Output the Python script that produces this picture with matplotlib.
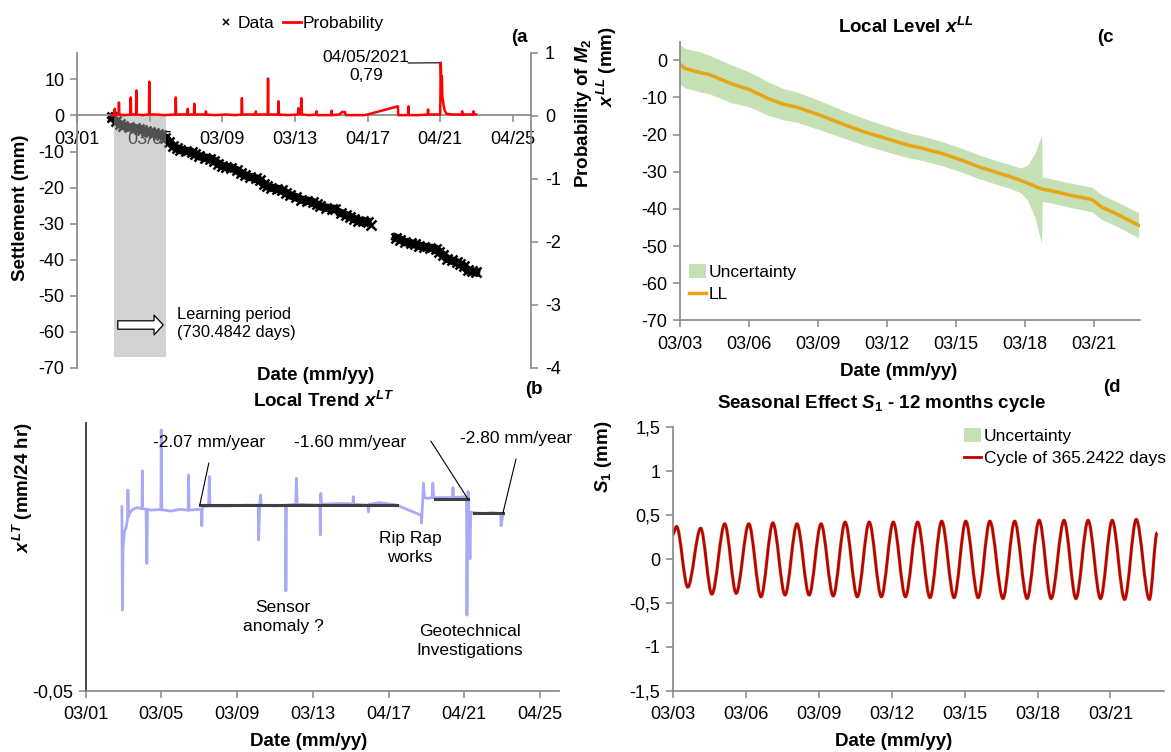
import numpy as np
import matplotlib
matplotlib.use('Agg')
import matplotlib.pyplot as plt
from matplotlib.lines import Line2D
from matplotlib.patches import Patch, Rectangle, FancyArrowPatch, PathPatch, ArrowStyle
from matplotlib.path import Path

plt.rcParams['font.family'] = ['Liberation Sans', 'DejaVu Sans']
plt.rcParams['axes.unicode_minus'] = False
plt.rcParams['mathtext.fontset'] = 'custom'
plt.rcParams['mathtext.it'] = 'Liberation Sans:bold:italic'
plt.rcParams['mathtext.rm'] = 'Liberation Sans:bold'
plt.rcParams['mathtext.bf'] = 'Liberation Sans:bold'

# ---------------- data ----------------
nan = np.nan
# (a) settlement data (mm) vs decimal year
settle_year = [2002.94, 2003.15, 2003.35, 2003.56, 2003.88, 2004.19, 2004.40, 2004.60, 2004.81, 2005.02,
               2005.23, 2005.44, 2005.65, 2005.85, 2006.06, 2006.27, 2006.48, 2006.69, 2007.00, 2007.31,
               2007.52, 2007.73, 2008.04, 2008.35, 2008.56, 2008.77, 2008.98, 2009.19, 2009.50, 2009.81,
               2010.02, 2010.23, 2010.54, 2010.85, 2011.06, 2011.27, 2011.48, 2011.69, 2012.00, 2012.31,
               2012.52, 2012.73, 2013.04, 2013.35, 2013.67, 2013.98, 2014.19, 2014.40, 2014.71, 2015.02,
               2015.19, 2015.3,
               2015.54, 2015.81, 2016.06, 2016.27, 2016.48, 2016.73, 2017.00, 2017.1,
               2017.21, 2017.3,
               2018.56, 2018.81, 2019.08, 2019.40, 2019.60, 2019.85, 2020.13, 2020.44, 2020.75, 2020.96,
               2021.17, 2021.38, 2021.63, 2021.90, 2022.10, 2022.31, 2022.52, 2022.73, 2022.98]
settle_mm = [-0.56, -1.48, -2.41, -2.96, -3.33, -3.52, -3.70, -4.07, -4.35, -4.63,
             -4.91, -5.19, -5.46, -6.11, -7.22, -8.33, -9.07, -9.63, -9.81, -10.09,
             -10.74, -11.30, -11.67, -11.94, -12.59, -13.33, -13.98, -14.26, -14.44, -15.19,
             -15.93, -16.57, -17.04, -17.41, -17.96, -18.89, -19.63, -20.00, -20.28, -20.74,
             -21.48, -22.13, -22.59, -23.33, -23.61, -23.98, -24.63, -25.19, -25.56, -25.83,
             -25.93, nan,
             -27.04, -27.59, -28.15, -28.70, -29.17, -29.35, -29.54, nan,
             -30.46, nan,
             -33.89, -34.44, -35.09, -35.46, -35.65, -36.11, -36.48, -36.67, -36.94, -37.87,
             -38.80, -39.72, -40.19, -40.65, -41.30, -41.76, -42.96, -43.24, -43.43]

# (a) probability of model M2
prob_year = [2002.94, 2003.05, 2003.08, 2003.10, 2003.29, 2003.31, 2003.33, 2003.6, 2003.94, 2003.96,
             2003.98, 2004.25, 2004.27, 2004.29, 2004.6, 2004.96, 2004.98, 2005.00, 2005.4, 2005.8,
             2006.42, 2006.44, 2006.46, 2006.8, 2007.08, 2007.10, 2007.12, 2007.44, 2007.46, 2007.48,
             2008.08, 2008.10, 2008.12, 2008.6, 2009.2, 2009.7, 2010.06, 2010.08, 2010.10, 2010.5,
             2010.83, 2010.85, 2010.87, 2011.50, 2011.52, 2011.54, 2011.8, 2012.08, 2012.10, 2012.12,
             2012.6, 2013.17, 2013.19, 2013.21, 2013.33, 2013.35, 2013.37, 2013.8, 2014.17, 2014.19,
             2014.21, 2014.6, 2015.00, 2015.02, 2015.04, 2015.45, 2015.6, 2015.75, 2015.8, 2016.3,
             2016.8, 2017.0, 2018.67, 2018.69, 2019.0, 2019.23, 2019.25, 2019.27, 2019.8, 2020.31,
             2020.33, 2020.35, 2020.8, 2021.00, 2021.03, 2021.06, 2021.09, 2021.12, 2021.18, 2021.25,
             2021.35, 2021.7, 2022.19, 2022.21, 2022.23, 2022.6, 2022.81, 2022.83, 2022.85, 2022.98]
prob_val = [0.00, 0.02, 0.11, 0.02, 0.02, 0.21, 0.02, 0.01, 0.02, 0.29,
            0.02, 0.02, 0.40, 0.02, 0.01, 0.02, 0.54, 0.02, 0.02, 0.01,
            0.02, 0.29, 0.02, 0.02, 0.02, 0.11, 0.02, 0.02, 0.19, 0.02,
            0.02, 0.07, 0.02, 0.01, 0.02, 0.01, 0.02, 0.28, 0.02, 0.02,
            0.02, 0.07, 0.02, 0.02, 0.59, 0.02, 0.02, 0.02, 0.23, 0.02,
            0.01, 0.02, 0.12, 0.03, 0.03, 0.28, 0.02, 0.01, 0.02, 0.07,
            0.01, 0.01, 0.01, 0.08, 0.01, 0.02, 0.06, 0.06, 0.01, 0.01,
            0.01, 0.02, 0.15, 0.01, 0.01, 0.01, 0.15, 0.01, 0.01, 0.02,
            0.10, 0.02, 0.02, 0.02, 0.84, 0.55, 0.63, 0.30, 0.18, 0.08,
            0.03, 0.02, 0.02, 0.07, 0.02, 0.02, 0.02, 0.07, 0.02, 0.02]
learn_start, learn_end = 2003.04, 2005.88

# (b) local trend (mm/day)
lt_year = [2002.92, 2002.95, 2002.98, 2003.02, 2003.06, 2003.15, 2003.22, 2003.24, 2003.27, 2003.35,
           2003.5, 2003.7, 2003.98, 2004.0, 2004.02, 2004.2, 2004.24, 2004.27, 2004.5, 2004.98,
           2005.0, 2005.03, 2005.5, 2006.0, 2006.42, 2006.44, 2006.47, 2007.0, 2007.12, 2007.14,
           2007.17, 2007.5, 2007.54, 2007.57, 2008.5, 2009.5, 2010.12, 2010.14, 2010.2, 2010.24,
           2010.28, 2011.0, 2011.56, 2011.58, 2011.61, 2012.1, 2012.14, 2012.18, 2013.38, 2013.4,
           2013.42, 2013.46, 2014.5, 2015.12, 2015.14, 2015.17, 2015.9, 2015.94, 2015.98, 2016.5,
           2017.0, 2017.44, 2018.72, 2018.74, 2018.8, 2018.84, 2018.9, 2019.04, 2019.3, 2019.34,
           2019.38, 2020.0, 2020.38, 2020.4, 2020.43, 2021.0, 2021.12, 2021.14, 2021.17, 2021.2,
           2021.24, 2021.3, 2021.34, 2021.5, 2022.0, 2022.5, 2022.92, 2022.94, 2023.04]
lt_val = [-0.0062, -0.0308, -0.0160, -0.0140, -0.0120, -0.0110, -0.0090, -0.0022, -0.0085, -0.0075,
          -0.0068, -0.0064, -0.0066, 0.0024, -0.0066, -0.0068, -0.0197, -0.0068, -0.0070, -0.0068,
          0.0121, -0.0069, -0.0072, -0.0068, -0.0070, 0.0014, -0.0070, -0.0068, -0.0070, -0.0107,
          -0.0062, -0.0060, 0.0010, -0.0060, -0.0060, -0.0058, -0.0058, -0.0141, -0.0058, -0.0034,
          -0.0058, -0.0060, -0.0058, -0.0262, -0.0058, -0.0056, 0.0006, -0.0056, -0.0058, -0.0129,
          -0.0030, -0.0056, -0.0054, -0.0055, -0.0038, -0.0056, -0.0058, -0.0074, -0.0056, -0.0052,
          -0.0055, -0.0058, -0.0082, -0.0101, -0.0050, -0.0006, -0.0040, -0.0042, -0.0040, -0.0006,
          -0.0040, -0.0040, -0.0040, -0.0016, -0.0040, -0.0038, -0.0044, -0.0320, -0.0100, -0.0026,
          -0.0070, -0.0186, -0.0075, -0.0076, -0.0078, -0.0076, -0.0078, -0.0107, -0.0080]
trend_labels = ['-2.07 mm/year', '-1.60 mm/year', '-2.80 mm/year']
trend_rate = [-2.07, -1.60, -2.80]            # mm/year
trend_start = [2007.04, 2019.44, 2021.50]
trend_end = [2017.44, 2021.20, 2023.04]

# (c) local level (mm)
ll_year = [2003.00, 2003.21, 2003.93, 2004.26, 2005.22, 2006.03, 2006.83, 2007.48, 2008.12, 2009.09,
           2010.05, 2011.02, 2011.99, 2012.95, 2013.43, 2014.40, 2015.21, 2016.01, 2016.82, 2017.30,
           2017.80, 2018.10, 2018.43, 2018.72, 2018.75, 2019.07, 2020.04, 2020.92, 2021.33, 2021.97,
           2022.94]
ll_val = [-1.1, -2.2, -3.4, -3.8, -6.3, -7.9, -10.3, -11.8, -12.7, -14.8,
          -17.1, -19.3, -21.1, -22.9, -23.5, -25.1, -26.8, -28.7, -30.3, -31.2,
          -32.3, -33.0, -33.9, -34.6, -34.7, -35.0, -36.4, -37.5, -39.5, -41.3,
          -44.4]
ll_upper = [4.2, 3.2, 2.2, 1.4, -1.2, -3.2, -5.8, -7.6, -8.6, -10.9,
            -13.4, -15.7, -17.7, -19.6, -20.2, -21.9, -23.6, -25.5, -27.1, -28.0,
            -29.0, -28.3, -25.1, -20.2, -31.4, -31.8, -33.1, -34.2, -36.2, -38.0,
            -41.0]
ll_lower = [-6.4, -7.4, -8.6, -9.0, -11.4, -12.6, -14.8, -16.0, -16.8, -18.7,
            -20.8, -22.9, -24.6, -26.3, -26.8, -28.4, -30.0, -31.9, -33.5, -34.4,
            -35.6, -37.5, -42.2, -49.4, -38.0, -38.3, -39.7, -40.8, -42.8, -44.6,
            -47.8]

# (d) seasonal component: start, alternating extremes, end
s1_year = [2003.00, 2003.16, 2003.62, 2004.15, 2004.61, 2005.14, 2005.61, 2006.13, 2006.63, 2007.12,
           2007.62, 2008.11, 2008.61, 2009.10, 2009.60, 2010.09, 2010.59, 2011.08, 2011.58, 2012.07,
           2012.57, 2013.07, 2013.58, 2014.06, 2014.57, 2015.05, 2015.56, 2016.04, 2016.58, 2017.06,
           2017.57, 2018.07, 2018.56, 2019.09, 2019.58, 2020.08, 2020.59, 2021.07, 2021.58, 2022.06,
           2022.60, 2022.92]
s1_val = [0.28, 0.37, -0.32, 0.35, -0.40, 0.40, -0.39, 0.40, -0.43, 0.41,
          -0.41, 0.40, -0.41, 0.40, -0.42, 0.42, -0.43, 0.42, -0.43, 0.42,
          -0.43, 0.42, -0.44, 0.43, -0.44, 0.43, -0.44, 0.43, -0.45, 0.43,
          -0.45, 0.44, -0.45, 0.44, -0.45, 0.44, -0.45, 0.44, -0.46, 0.45,
          -0.46, 0.30]

xt_a = [2001, 2005, 2009, 2013, 2017, 2021, 2025]
xl_a = ['03/01', '03/05', '03/09', '03/13', '04/17', '04/21', '04/25']
xt_c = [2003, 2006, 2009, 2012, 2015, 2018, 2021]
xl_c = ['03/03', '03/06', '03/09', '03/12', '03/15', '03/18', '03/21']

# ---------------- figure ----------------
W, H = 1171, 752
fig = plt.figure(figsize=(W / 100, H / 100), dpi=100)
SP = '#868686'
GREEN = '#c5e0b4'


def P(x, y):
    return (x / W, 1 - y / H)


def box(l, t, r, b):
    return [l / W, 1 - b / H, (r - l) / W, (b - t) / H]


def style(ax, lab=13):
    for s in ['top', 'right']:
        ax.spines[s].set_visible(False)
    for s in ['left', 'bottom']:
        ax.spines[s].set_color(SP)
        ax.spines[s].set_linewidth(1.2)
    ax.tick_params(labelsize=lab, length=5, width=1.1, color=SP, direction='out', pad=4)


def ftext(x, y, s, **kw):
    fig.text(*P(x, y), s, **kw)


TICK = 13
ANN = 12.5
BOLD = 13.5

# ---- (a) ----
ax1 = fig.add_axes(box(77, 52.7, 531, 368))
style(ax1)
ax1.spines['bottom'].set_position(('data', 0))
ax1.set_xlim(2001, 2026)
ax1.set_ylim(-70, 17.4)
ax1.set_yticks(range(-70, 11, 10))
ax1.set_xticks(xt_a)
ax1.set_xticklabels(xl_a)
ax1.tick_params(axis='x', pad=6)
ax1.plot(settle_year, settle_mm, color='k', lw=6, marker='x', ms=7, mew=1.8, zorder=2)
ax1.add_patch(Rectangle((learn_start, -67), learn_end - learn_start, 67,
                        facecolor='#a5a5a5', alpha=0.49, edgecolor='none', zorder=3))
ax2 = ax1.twinx()
for s in ['top', 'left', 'bottom']:
    ax2.spines[s].set_visible(False)
ax2.spines['right'].set_color(SP)
ax2.spines['right'].set_linewidth(1.2)
ax2.set_ylim(-4, 1)
ax2.set_yticks([-4, -3, -2, -1, 0, 1])
ax2.tick_params(labelsize=TICK, length=5, width=1.1, color=SP, direction='out', pad=5)
ax2.plot(prob_year, prob_val, color='#ff0000', lw=1.8, zorder=4)
pk = int(np.argmax(prob_val))
ax2.annotate('', xy=(prob_year[pk], prob_val[pk]), xytext=P(408, 63),
             textcoords='figure fraction',
             arrowprops=dict(arrowstyle='-', color='k', lw=0.8, shrinkA=0, shrinkB=0))
ftext(366, 57, '04/05/2021', fontsize=ANN, ha='center', va='center')
ftext(366, 75, '0,79', fontsize=ANN, ha='center', va='center')
ftext(519, 38, '(a', fontsize=BOLD, fontweight='bold', ha='center', va='center')
ftext(177, 314, 'Learning period', fontsize=11.8, ha='left', va='center')
ftext(177, 333, '(730.4842 days)', fontsize=11.8, ha='left', va='center')
arr = FancyArrowPatch(P(115, 325), P(166, 325), transform=fig.transFigure,
                      arrowstyle=ArrowStyle.Simple(head_length=0.6, head_width=1.3, tail_width=0.55),
                      mutation_scale=11, fc='white', ec='black', lw=0.9, zorder=10)
fig.add_artist(arr)
ftext(21, 208, 'Settlement (mm)', fontsize=BOLD, fontweight='bold', rotation=90, ha='center', va='center')
fig.text(*P(583, 188), 'Probability of $M_2$', fontsize=BOLD, fontweight='bold', rotation=90,
         rotation_mode='anchor', ha='left', va='center')
ftext(316, 375, 'Date (mm/yy)', fontsize=BOLD, fontweight='bold', ha='center', va='center')
hl = [Line2D([], [], color='k', marker='x', ls='none', ms=5, mew=1.1),
      Line2D([], [], color='#ff0000', lw=2)]
fig.legend(hl, ['Data', 'Probability'], loc='center', bbox_to_anchor=P(301, 23), ncol=2,
           frameon=False, fontsize=12.5, handlelength=1.0, handletextpad=0.15, columnspacing=0.5,
           borderpad=0, borderaxespad=0)

# ---- (b) ----
ax3 = fig.add_axes(box(85.5, 423.3, 559, 690.7))
style(ax3)
ax3.spines['left'].set_color('#222222')
ax3.set_xlim(2001, 2026)
ax3.set_ylim(-0.05, 0.0137)
ax3.set_yticks([-0.05])
ax3.set_yticklabels(['-0,05'])
ax3.set_xticks(xt_a)
ax3.set_xticklabels(xl_a)
ax3.tick_params(axis='x', pad=6)
ax3.plot(lt_year, lt_val, color='#a9a9f5', lw=2.0, zorder=2)
tr_txt = [(209.5, 443), (350, 442), (516, 439)]
tr_from = [(208.8, 463), (430.8, 441), (516, 459)]
tr_pt = [0, 1, 1]
for lab, r, x0, x1, tp, fp, which in zip(trend_labels, trend_rate, trend_start, trend_end, tr_txt, tr_from, tr_pt):
    lvl = r / 365.25
    ax3.plot([x0, x1], [lvl, lvl], color='#3f3f3f', lw=2.2, zorder=3)
    ftext(tp[0], tp[1], lab, fontsize=ANN, ha='center', va='center')
    ax3.annotate('', xy=((x0, x1)[which], lvl), xytext=P(*fp), textcoords='figure fraction',
                 arrowprops=dict(arrowstyle='-', color='k', lw=0.8, shrinkA=0, shrinkB=0))
ftext(283, 608, 'Sensor', fontsize=ANN, ha='center', va='center')
ftext(283, 627, 'anomaly ?', fontsize=ANN, ha='center', va='center')
ftext(410, 538, 'Rip Rap', fontsize=ANN, ha='center', va='center')
ftext(410, 557, 'works', fontsize=ANN, ha='center', va='center')
ftext(470, 631, 'Geotechnical', fontsize=ANN, ha='center', va='center')
ftext(470, 651, 'Investigations', fontsize=ANN, ha='center', va='center')
ftext(323.5, 401, 'Local Trend $x^{LT}$', fontsize=BOLD, fontweight='bold', ha='center', va='center')
ftext(534, 389, '(b', fontsize=BOLD, fontweight='bold', ha='center', va='center')
ftext(23, 488, '$x^{LT}$ (mm/24 hr)', fontsize=BOLD, fontweight='bold', rotation=90, ha='center', va='center')
ftext(308.5, 742, 'Date (mm/yy)', fontsize=BOLD, fontweight='bold', ha='center', va='center')

# ---- (c) ----
ax4 = fig.add_axes(box(680, 41.7, 1140, 320.4))
style(ax4)
ax4.set_xlim(2003, 2023)
ax4.set_ylim(-70, 5)
ax4.set_yticks(range(-70, 1, 10))
ax4.set_xticks(xt_c)
ax4.set_xticklabels(xl_c)
ax4.tick_params(axis='x', pad=6)
ax4.fill_between(ll_year, ll_lower, ll_upper, color=GREEN, lw=0, zorder=1)
ax4.plot(ll_year, ll_val, color='#e9a415', lw=2.5, zorder=2)
hc = [Patch(facecolor=GREEN, edgecolor='none'), Line2D([], [], color='#e9a415', lw=2.5)]
ax4.legend(hc, ['Uncertainty', 'LL'], loc='upper left', bbox_to_anchor=P(689, 264),
           bbox_transform=fig.transFigure, frameon=False, fontsize=12.5, handlelength=1.0,
           handleheight=0.9, handletextpad=0.15, labelspacing=0.35, borderpad=0, borderaxespad=0)
ftext(906, 27, 'Local Level $x^{LL}$', fontsize=BOLD, fontweight='bold', ha='center', va='center')
ftext(1105, 37, '(c', fontsize=BOLD, fontweight='bold', ha='center', va='center')
ftext(607, 67, '$x^{LL}$ (mm)', fontsize=BOLD, fontweight='bold', rotation=90, ha='center', va='center')
ftext(899, 371, 'Date (mm/yy)', fontsize=BOLD, fontweight='bold', ha='center', va='center')

# ---- (d) ----
ax5 = fig.add_axes(box(672.7, 427.3, 1164, 690.7))
style(ax5)
ax5.set_xlim(2003, 2023.2)
ax5.set_ylim(-1.5, 1.5)
yt = [-1.5, -1, -0.5, 0, 0.5, 1, 1.5]
ax5.set_yticks(yt)
ax5.set_yticklabels(['-1,5', '-1', '-0,5', '0', '0,5', '1', '1,5'])
ax5.set_xticks(xt_c)
ax5.set_xticklabels(xl_c)
ax5.tick_params(axis='x', pad=6)


def smooth_path(xs, ys):
    verts = [(xs[0], ys[0])]
    codes = [Path.MOVETO]
    for i in range(len(xs) - 1):
        dx = xs[i + 1] - xs[i]
        verts += [(xs[i] + dx / 3, ys[i]), (xs[i + 1] - dx / 3, ys[i + 1]), (xs[i + 1], ys[i + 1])]
        codes += [Path.CURVE4] * 3
    return Path(verts, codes)


pth = smooth_path(s1_year, s1_val)
ax5.add_patch(PathPatch(pth, fill=False, ec=GREEN, lw=2.8, zorder=1))
ax5.add_patch(PathPatch(pth, fill=False, ec='#c00000', lw=2.0, zorder=2))
hd = [Patch(facecolor=GREEN, edgecolor='none'), Line2D([], [], color='#c00000', lw=2)]
ax5.legend(hd, ['Uncertainty', 'Cycle of 365.2422 days'], loc='upper left', bbox_to_anchor=P(964, 428),
           bbox_transform=fig.transFigure, frameon=False, fontsize=12.5, handlelength=1.0,
           handleheight=0.9, handletextpad=0.15, labelspacing=0.35, borderpad=0, borderaxespad=0)
ftext(882, 403, 'Seasonal Effect $S_1$ - 12 months cycle', fontsize=BOLD, fontweight='bold',
      ha='center', va='center')
ftext(1112, 388, '(d', fontsize=BOLD, fontweight='bold', ha='center', va='center')
ftext(604, 457, '$S_1$ (mm)', fontsize=BOLD, fontweight='bold', rotation=90, ha='center', va='center')
ftext(894, 742, 'Date (mm/yy)', fontsize=BOLD, fontweight='bold', ha='center', va='center')

fig.savefig('out.png', dpi=100)
